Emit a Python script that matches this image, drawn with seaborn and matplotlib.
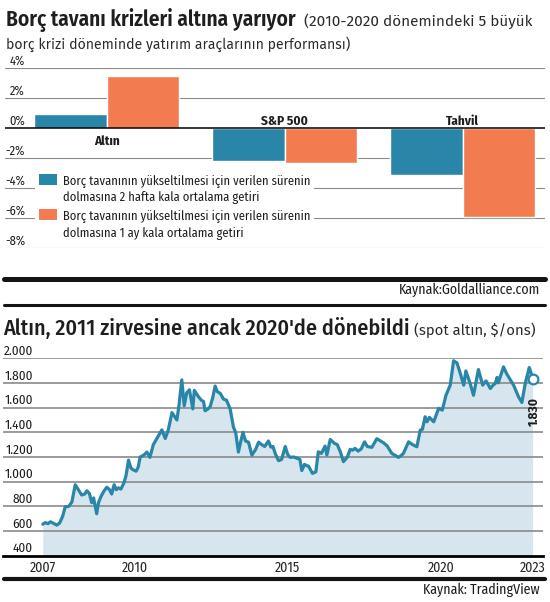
import matplotlib
matplotlib.use("Agg")
import matplotlib.pyplot as plt
from matplotlib import font_manager
from matplotlib.patches import Patch
from matplotlib.lines import Line2D
import pandas as pd
import seaborn as sns

# --- data ---
varliklar = ['Altın', 'S&P 500', 'Tahvil']
getiri_2hafta = [0.93, -2.22, -3.16]
getiri_1ay = [3.49, -2.36, -5.93]
donemler = ['2 hafta', '1 ay']
yuzde_ticks = [4, 2, 0, -2, -4, -6, -8]

altin_yil = [2007.00, 2007.08, 2007.17, 2007.25, 2007.35, 2007.46, 2007.55, 2007.65, 2007.73, 2007.85,
             2007.95, 2008.06, 2008.15, 2008.27, 2008.37, 2008.44, 2008.52, 2008.60, 2008.66, 2008.76,
             2008.82, 2008.90, 2009.00, 2009.09, 2009.18, 2009.25, 2009.33, 2009.40, 2009.47, 2009.55,
             2009.65, 2009.72, 2009.80, 2009.88, 2009.96, 2010.05, 2010.12, 2010.18, 2010.30, 2010.40,
             2010.50, 2010.61, 2010.75, 2010.89, 2011.00, 2011.10, 2011.22, 2011.30, 2011.38, 2011.45,
             2011.54, 2011.62, 2011.70, 2011.79, 2011.85, 2011.90, 2011.95, 2012.08, 2012.18, 2012.25,
             2012.30, 2012.40, 2012.47, 2012.55, 2012.63, 2012.70, 2012.80, 2012.90, 2013.00, 2013.12,
             2013.23, 2013.30, 2013.39, 2013.47, 2013.54, 2013.62, 2013.72, 2013.83, 2013.95, 2014.05,
             2014.15, 2014.25, 2014.37, 2014.45, 2014.52, 2014.59, 2014.70, 2014.80, 2014.92, 2015.00,
             2015.08, 2015.20, 2015.30, 2015.40, 2015.46, 2015.55, 2015.62, 2015.68, 2015.81, 2015.92,
             2016.00, 2016.10, 2016.22, 2016.28, 2016.39, 2016.53, 2016.62, 2016.72, 2016.82, 2016.95,
             2017.04, 2017.12, 2017.20, 2017.30, 2017.40, 2017.51, 2017.60, 2017.75, 2017.91, 2018.00,
             2018.13, 2018.25, 2018.40, 2018.50, 2018.62, 2018.70, 2018.78, 2018.95, 2019.08, 2019.22,
             2019.33, 2019.40, 2019.49, 2019.55, 2019.63, 2019.77, 2019.93, 2020.05, 2020.17, 2020.31,
             2020.42, 2020.53, 2020.64, 2020.75, 2020.82, 2020.96, 2021.07, 2021.23, 2021.37, 2021.48,
             2021.62, 2021.70, 2021.78, 2021.84, 2021.88, 2022.05, 2022.15, 2022.38, 2022.54, 2022.65,
             2022.76, 2022.89, 2022.94, 2023.00]
altin_fiyat = [655, 668, 660, 675, 662, 648, 665, 720, 795, 800,
               835, 975, 940, 892, 900, 926, 905, 830, 868, 740,
               830, 880, 925, 955, 935, 900, 975, 935, 950, 940,
               990, 1050, 1175, 1110, 1095, 1085, 1120, 1200, 1215, 1240,
               1197, 1300, 1360, 1420, 1350, 1420, 1560, 1530, 1500, 1620,
               1825, 1615, 1720, 1745, 1660, 1590, 1740, 1690, 1660, 1650,
               1575, 1590, 1610, 1680, 1775, 1730, 1715, 1670, 1660, 1590,
               1440, 1400, 1240, 1330, 1400, 1330, 1320, 1215, 1260, 1320,
               1300, 1285, 1330, 1280, 1285, 1230, 1170, 1180, 1285, 1220,
               1197, 1200, 1190, 1180, 1090, 1140, 1130, 1126, 1067, 1080,
               1242, 1229, 1288, 1216, 1342, 1310, 1300, 1242, 1162, 1200,
               1262, 1255, 1270, 1248, 1265, 1323, 1285, 1278, 1348, 1335,
               1315, 1290, 1229, 1215, 1197, 1210, 1229, 1323, 1300, 1283,
               1418, 1424, 1526, 1485, 1521, 1485, 1594, 1580, 1700, 1782,
               1980, 1963, 1876, 1782, 1898, 1796, 1700, 1909, 1782, 1817,
               1755, 1780, 1796, 1845, 1801, 1931, 1876, 1782, 1688, 1642,
               1796, 1925, 1890, 1830]
fiyat_ticks = [400, 600, 800, 1000, 1200, 1400, 1600, 1800, 2000]
yil_ticks = list(range(2007, 2024))
yil_etiket = [2007, 2010, 2015, 2020, 2023]

MAVI = '#2a86a8'
TURUNCU = '#f27b4f'
DOLGU = '#d7e6ee'
GRI = '#8a8a8a'
YAZI = '#1e1e1e'

sns.set_style('white')
installed = {f.name for f in font_manager.fontManager.ttflist}


def ilk(adaylar, yedek):
    return next((n for n in adaylar if n in installed), yedek)


NARROW = ilk(['Fira Sans Condensed', 'Roboto Condensed'], 'Liberation Sans')
LIGHT = ilk(['Fira Sans', 'Open Sans'], 'Lato')
plt.rcParams['font.family'] = [NARROW, 'DejaVu Sans']
plt.rcParams['text.color'] = YAZI

W, H = 550, 602
fig = plt.figure(figsize=(W / 100, H / 100), dpi=100)


def fx(px):
    return px / W


def fy(py):
    return 1 - py / H


# ---------------- top chart ----------------
ax1 = fig.add_axes([fx(5), fy(248), fx(540), 180 / H])
df = pd.DataFrame({
    'varlik': varliklar * 2,
    'donem': [donemler[0]] * 3 + [donemler[1]] * 3,
    'getiri': getiri_2hafta + getiri_1ay,
})
sns.barplot(data=df, x='varlik', y='getiri', hue='donem', palette=[MAVI, TURUNCU],
            width=0.815, saturation=1, legend=False, ax=ax1, zorder=2)
ax1.set_ylim(-8, 4)
ax1.set_xlim(-0.571, 2.462)
for v in yuzde_ticks:
    if v == 0:
        ax1.axhline(0, color='black', lw=1.1, zorder=3)
    else:
        ax1.axhline(v, color=GRI, lw=0.8, zorder=0)
    ax1.annotate(f'{v}%', (0.037, v), xycoords=('axes fraction', 'data'), xytext=(0, 2.2),
                 textcoords='offset points', ha='right', va='baseline', fontsize=9)
for i, ad in enumerate(varliklar):
    if getiri_2hafta[i] > 0:
        ax1.annotate(ad, (i, 0), xytext=(0, -5), textcoords='offset points', ha='center',
                     va='top', fontsize=9.5, fontweight='bold')
    else:
        ax1.annotate(ad, (i, 0), xytext=(0, 2.4), textcoords='offset points', ha='center',
                     va='baseline', fontsize=9.5, fontweight='bold')
ax1.set_xticks([])
ax1.set_yticks([])
ax1.set_xlabel('')
ax1.set_ylabel('')
sns.despine(ax=ax1, left=True, bottom=True)

handles = [Patch(facecolor=MAVI, edgecolor='none'), Patch(facecolor='none', edgecolor='none'),
           Patch(facecolor=TURUNCU, edgecolor='none'), Patch(facecolor='none', edgecolor='none')]
labels = ['Borç tavanının yükseltilmesi için verilen sürenin',
          'dolmasına 2 hafta kala ortalama getiri',
          'Borç tavanının yükseltilmesi için verilen sürenin',
          'dolmasına 1 ay kala ortalama getiri']
leg = ax1.legend(handles, labels, loc='upper left', bbox_to_anchor=(fx(35), fy(170)),
                 bbox_transform=fig.transFigure, borderaxespad=0, borderpad=0.3,
                 fontsize=9, frameon=True, fancybox=False, framealpha=1,
                 facecolor='white', edgecolor='none', handlelength=1.44, handleheight=0.96,
                 handletextpad=0.48, labelspacing=0.37)
for t in leg.get_texts():
    t.set_color(YAZI)

# ---------------- bottom chart ----------------
ax2 = fig.add_axes([fx(3), fy(555.7), fx(540), 197.4 / H])
altin = pd.DataFrame({'yil': altin_yil, 'fiyat': altin_fiyat})
ax2.fill_between(altin['yil'], 400, altin['fiyat'], color=DOLGU, lw=0, zorder=1)
for v in fiyat_ticks[1:]:
    ax2.axhline(v, color=GRI, lw=1.2, zorder=2)
sns.lineplot(data=altin, x='yil', y='fiyat', color=MAVI, lw=2.3, ax=ax2, zorder=3)
son_x, son_y = altin_yil[-1], altin_fiyat[-1]
ax2.plot(son_x, son_y, 'o', mfc='white', mec=MAVI, ms=7, mew=1.6, zorder=4)
ax2.annotate(f'{son_y:,}'.replace(',', '.'), (son_x, son_y), xytext=(1.6, -12.7),
             textcoords='offset points', rotation=90, ha='center', va='top',
             fontsize=9.5, fontweight='bold')
ax2.set_ylim(400, 2000)
ax2.set_xlim(2005.70, 2023.34)
for v in fiyat_ticks:
    ax2.annotate(f'{v:,}'.replace(',', '.'), (0.0556, v), xycoords=('axes fraction', 'data'),
                 xytext=(0, 2.4), textcoords='offset points', ha='right', va='baseline',
                 fontsize=9.5)
ax2.set_yticks([])
ax2.set_xticks(yil_ticks)
ax2.set_xticklabels([str(y) if y in yil_etiket else '' for y in yil_ticks], fontsize=10)
ax2.tick_params(axis='x', direction='in', length=3.8, width=1.4, color='black', pad=3.5)
ax2.set_xlabel('')
ax2.set_ylabel('')
sns.despine(ax=ax2, left=True)
ax2.spines['bottom'].set_linewidth(2.0)
ax2.spines['bottom'].set_color('black')

# ---------------- titles, sources, rules ----------------
t1 = fig.text(fx(6), fy(26.3), 'Borç tavanı krizleri altına yarıyor', fontsize=14.5,
              fontweight='semibold', va='baseline')
s1 = fig.text(fx(304.5), fy(26.3), '(2010-2020 dönemindeki 5 büyük', color='#2a2a2a',
              family=[LIGHT, 'DejaVu Sans'], fontweight='normal', fontsize=10.5, va='baseline')
s1b = fig.text(fx(6), fy(49), 'borç krizi döneminde yatırım araçlarının performansı)',
               color='#2a2a2a', family=[LIGHT, 'DejaVu Sans'], fontweight='normal',
               fontsize=10.5, va='baseline')
t2 = fig.text(fx(3.5), fy(335), "Altın, 2011 zirvesine ancak 2020'de dönebildi", fontsize=14.5,
              fontweight='medium', va='baseline')
s2 = fig.text(fx(414), fy(335), '(spot altın, $/ons)', family=[LIGHT, 'DejaVu Sans'],
              color='#2a2a2a', fontweight='normal', fontsize=10, va='baseline')
fig.text(fx(540), fy(294), 'Kaynak:Goldalliance.com', ha='right', va='baseline', fontsize=10)
fig.text(fx(540), fy(594), 'Kaynak: TradingView', ha='right', va='baseline', fontsize=10)

for y0, lw in [(278.5, 3.6), (304.8, 2.2), (579, 3.0)]:
    fig.add_artist(Line2D([fx(3.5), fx(545)], [fy(y0), fy(y0)], color='#141414', lw=lw))

fig.canvas.draw()
r = fig.canvas.get_renderer()


def fit(t, x0, x1):
    w = t.get_window_extent(r).width
    t.set_fontsize(t.get_fontsize() * (x1 - x0) / w)


fit(t1, 6, 295)
fit(s1, 304.5, 533)
fit(s1b, 6, 352)
fit(t2, 3.5, 410)
fit(s2, 414, 535)

fig.savefig('out.png', dpi=100)
